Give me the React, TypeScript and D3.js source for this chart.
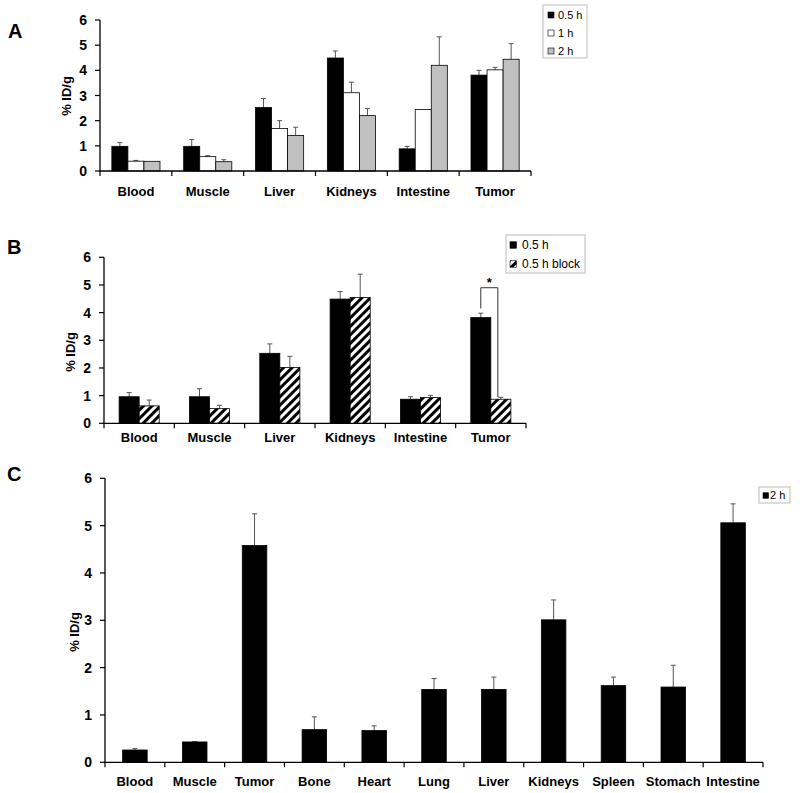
import React from "react";
import * as d3 from "d3";

const catsAB = ["Blood", "Muscle", "Liver", "Kidneys", "Intestine", "Tumor"];
const seriesA = ["0.5 h", "1 h", "2 h"];
const a05 = [0.98, 0.98, 2.52, 4.49, 0.88, 3.81];
const a05Err = [0.15, 0.27, 0.36, 0.28, 0.1, 0.19];
const a1 = [0.39, 0.57, 1.69, 3.11, 2.44, 4.02];
const a1Err = [0.03, 0.04, 0.31, 0.42, 0, 0.1];
const a2 = [0.385, 0.37, 1.41, 2.2, 4.2, 4.44];
const a2Err = [0, 0.08, 0.33, 0.28, 1.13, 0.62];

const seriesB = ["0.5 h", "0.5 h block"];
const b05 = [0.96, 0.96, 2.53, 4.49, 0.87, 3.82];
const b05Err = [0.15, 0.29, 0.34, 0.27, 0.09, 0.16];
const bBlock = [0.63, 0.53, 2.02, 4.55, 0.93, 0.87];
const bBlockErr = [0.21, 0.12, 0.4, 0.84, 0.08, 0.07];
// significance bracket (Tumor): left foot, top, right foot in % ID/g
const bracketVals = [4.15, 4.9, 0.95];

const catsC = ["Blood", "Muscle", "Tumor", "Bone", "Heart", "Lung", "Liver", "Kidneys", "Spleen", "Stomach", "Intestine"];
const seriesC = ["2 h"];
const c2 = [0.26, 0.43, 4.58, 0.69, 0.67, 1.54, 1.54, 3.01, 1.62, 1.59, 5.06];
const c2Err = [0.03, 0.01, 0.67, 0.27, 0.1, 0.23, 0.26, 0.42, 0.18, 0.46, 0.4];

const yTicks = [0, 1, 2, 3, 4, 5, 6];

const FONT = "Arial, 'Liberation Sans', Helvetica, sans-serif";

type Series = { name: string; values: number[]; errs: number[]; fill: string };

type PanelProps = {
  letter: string;
  letterPos: [number, number];
  cats: string[];
  series: Series[];
  x0: number;
  x1: number;
  yTop: number;
  yBot: number;
  groupFrac: number;
  labelY: number;
  yLabelPos: [number, number];
  legend: { x: number; y: number; w: number; h: number; rows: number[]; sq: number; sqX: number; textX: number; fontSize: number };
  children?: (x: d3.ScaleBand<string>, inner: d3.ScaleBand<string>, y: d3.ScaleLinear<number, number>) => React.ReactNode;
};

function Panel(p: PanelProps) {
  const x = d3.scaleBand<string>().domain(p.cats).range([p.x0, p.x1]).paddingInner(0).paddingOuter(0);
  const n = p.series.length;
  const po = (n / p.groupFrac - n) / 2;
  const inner = d3
    .scaleBand<string>()
    .domain(p.series.map((s) => s.name))
    .range([0, x.step()])
    .paddingInner(0)
    .paddingOuter(po);
  const y = d3.scaleLinear().domain([0, 6]).range([p.yBot, p.yTop]);
  const bw = inner.bandwidth();
  const boundaries = d3.range(p.cats.length + 1).map((i) => p.x0 + i * x.step());
  return (
    <g>
      <text x={p.letterPos[0]} y={p.letterPos[1]} fontFamily={FONT} fontWeight="bold" fontSize={20}>
        {p.letter}
      </text>
      {p.series.map((s) =>
        p.cats.map((c, i) => {
          const bx = (x(c) as number) + (inner(s.name) as number);
          const v = s.values[i];
          const e = s.errs[i];
          const cx = bx + bw / 2;
          return (
            <g key={s.name + c}>
              {e > 0 && (
                <g stroke="#555" strokeWidth={1}>
                  <line x1={cx} x2={cx} y1={y(v)} y2={y(v + e)} />
                  <line x1={cx - 2.5} x2={cx + 2.5} y1={y(v + e)} y2={y(v + e)} />
                </g>
              )}
              <rect x={bx} y={y(v)} width={bw} height={y(0) - y(v)} fill={s.fill} stroke="#000" strokeWidth={0.8} />
            </g>
          );
        })
      )}
      <line x1={p.x0} x2={p.x0} y1={p.yTop} y2={p.yBot} stroke="#000" strokeWidth={1.3} />
      <line x1={p.x0 - 0.6} x2={p.x1} y1={p.yBot} y2={p.yBot} stroke="#000" strokeWidth={1.3} />
      {yTicks.map((t) => (
        <g key={t}>
          <line x1={p.x0 - 5} x2={p.x0} y1={y(t)} y2={y(t)} stroke="#000" strokeWidth={1.2} />
          <text
            x={p.x0 - 13}
            y={y(t)}
            dy="0.36em"
            textAnchor="end"
            fontFamily={FONT}
            fontWeight="bold"
            fontSize={14}
          >
            {t}
          </text>
        </g>
      ))}
      {boundaries.map((bx, i) => (
        <line key={i} x1={bx} x2={bx} y1={p.yBot} y2={p.yBot + 5} stroke="#000" strokeWidth={1.2} />
      ))}
      {p.cats.map((c) => (
        <text
          key={c}
          x={(x(c) as number) + x.step() / 2}
          y={p.labelY}
          textAnchor="middle"
          fontFamily={FONT}
          fontWeight="bold"
          fontSize={13}
        >
          {c}
        </text>
      ))}
      <text
        transform={`translate(${p.yLabelPos[0]},${p.yLabelPos[1]}) rotate(-90)`}
        textAnchor="middle"
        fontFamily={FONT}
        fontWeight="bold"
        fontSize={13}
      >
        % ID/g
      </text>
      <rect x={p.legend.x} y={p.legend.y} width={p.legend.w} height={p.legend.h} fill="#fff" stroke="#bbb" strokeWidth={1} />
      {p.series.map((s, i) => (
        <g key={s.name}>
          <rect
            x={p.legend.sqX}
            y={p.legend.rows[i] - p.legend.sq / 2}
            width={p.legend.sq}
            height={p.legend.sq}
            fill={s.fill}
            stroke="#000"
            strokeWidth={0.6}
          />
          <text
            x={p.legend.textX}
            y={p.legend.rows[i]}
            dy="0.36em"
            fontFamily={FONT}
            fontSize={p.legend.fontSize}
          >
            {s.name}
          </text>
        </g>
      ))}
      {p.children && p.children(x, inner, y)}
    </g>
  );
}

export default function App() {
  const seriesAData: Series[] = [
    { name: seriesA[0], values: a05, errs: a05Err, fill: "#000" },
    { name: seriesA[1], values: a1, errs: a1Err, fill: "#fff" },
    { name: seriesA[2], values: a2, errs: a2Err, fill: "#c0c0c0" },
  ];
  const seriesBData: Series[] = [
    { name: seriesB[0], values: b05, errs: b05Err, fill: "#000" },
    { name: seriesB[1], values: bBlock, errs: bBlockErr, fill: "url(#hatch)" },
  ];
  const seriesCData: Series[] = [{ name: seriesC[0], values: c2, errs: c2Err, fill: "#000" }];

  return (
    <svg
      width={800}
      height={793}
      style={{ position: "absolute", left: 0, top: 0, background: "#fff" }}
    >
      <defs>
        <pattern id="hatch" patternUnits="userSpaceOnUse" width={6} height={6} patternTransform="rotate(45)">
          <rect x={0} y={0} width={6} height={6} fill="#000" />
          <rect x={0} y={0} width={3} height={6} fill="#fff" />
        </pattern>
      </defs>
      <rect x={0} y={0} width={800} height={793} fill="#fff" />
      <Panel
        letter="A"
        letterPos={[8, 38]}
        cats={catsAB}
        series={seriesAData}
        x0={100}
        x1={531}
        yTop={20}
        yBot={171}
        groupFrac={0.67}
        labelY={196}
        yLabelPos={[71, 96]}
        legend={{ x: 543, y: 5, w: 44, h: 53, rows: [15, 33, 51], sq: 6, sqX: 548, textX: 558, fontSize: 11 }}
      />
      <Panel
        letter="B"
        letterPos={[7, 254]}
        cats={catsAB}
        series={seriesBData}
        x0={104}
        x1={526}
        yTop={257.3}
        yBot={423.3}
        groupFrac={0.57}
        labelY={442}
        yLabelPos={[75, 352]}
        legend={{ x: 506, y: 235, w: 79, h: 38, rows: [245, 264], sq: 6.5, sqX: 510, textX: 522, fontSize: 12 }}
      >
        {(x, inner, y) => {
          const c = catsAB[5];
          const lx = (x(c) as number) + (inner(seriesB[0]) as number) + inner.bandwidth() / 2;
          const rx = (x(c) as number) + (inner(seriesB[1]) as number) + inner.bandwidth() / 2 - 3;
          return (
            <g>
              <path
                d={`M${lx},${y(bracketVals[0])} V${y(bracketVals[1])} H${rx} V${y(bracketVals[2])}`}
                fill="none"
                stroke="#333"
                strokeWidth={1}
              />
              <text x={(lx + rx) / 2} y={y(bracketVals[1]) - 1} textAnchor="middle" fontFamily={FONT} fontWeight="bold" fontSize={13}>
                *
              </text>
            </g>
          );
        }}
      </Panel>
      <Panel
        letter="C"
        letterPos={[7, 481]}
        cats={catsC}
        series={seriesCData}
        x0={105}
        x1={763}
        yTop={478.3}
        yBot={762.3}
        groupFrac={0.41}
        labelY={786}
        yLabelPos={[79, 632]}
        legend={{ x: 759, y: 487, w: 31, h: 16, rows: [495.5], sq: 5.5, sqX: 763, textX: 770, fontSize: 11 }}
      />
    </svg>
  );
}
